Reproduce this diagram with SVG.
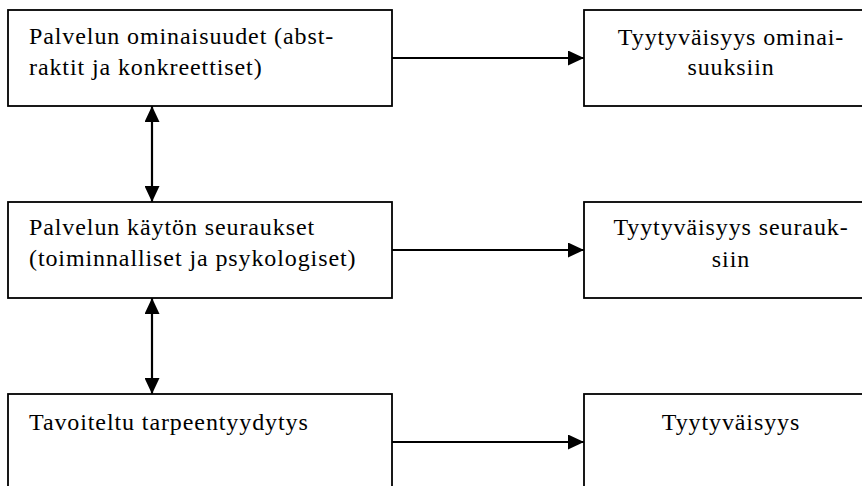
<svg xmlns="http://www.w3.org/2000/svg" width="862" height="486" viewBox="0 0 862 486">
  <style>
    .box { fill: #ffffff; stroke: #000000; stroke-width: 1.8; }
    .lbl { font-family: "Liberation Serif", "Times New Roman", serif; font-size: 24px; letter-spacing: 0.9px; fill: #000000; }
    .mid { text-anchor: middle; }
    .link { stroke: #000000; stroke-width: 2.2; fill: none; }
  </style>
  <defs>
    <marker id="head" viewBox="0 0 16 15" refX="16" refY="7.5" markerWidth="16" markerHeight="15" markerUnits="userSpaceOnUse" orient="auto-start-reverse">
      <path d="M0,0 L16,7.5 L0,15 Z" fill="#000000"/>
    </marker>
  </defs>
  <rect width="862" height="486" fill="#ffffff"/>

  <g id="connectors">
    <line class="link" x1="392" y1="58" x2="584" y2="58" marker-end="url(#head)"/>
    <line class="link" x1="392" y1="250" x2="584" y2="250" marker-end="url(#head)"/>
    <line class="link" x1="392" y1="442" x2="584" y2="442" marker-end="url(#head)"/>
    <line class="link" x1="152" y1="106" x2="152" y2="202" marker-start="url(#head)" marker-end="url(#head)"/>
    <line class="link" x1="152" y1="298" x2="152" y2="394" marker-start="url(#head)" marker-end="url(#head)"/>
  </g>

  <g id="ominaisuudet">
    <rect class="box" x="8" y="10" width="384" height="96"/>
    <text class="lbl" x="29" y="44">Palvelun ominaisuudet (abst-</text>
    <text class="lbl" x="29" y="75">raktit ja konkreettiset)</text>
  </g>
  <g id="seuraukset">
    <rect class="box" x="8" y="202" width="384" height="96"/>
    <text class="lbl" x="29" y="235">Palvelun käytön seuraukset</text>
    <text class="lbl" x="29" y="266">(toiminnalliset ja psykologiset)</text>
  </g>
  <g id="tarpeentyydytys">
    <rect class="box" x="8" y="394" width="384" height="110"/>
    <text class="lbl" x="29" y="430">Tavoiteltu tarpeentyydytys</text>
  </g>

  <g id="tyytyvaisyys-ominaisuuksiin">
    <rect class="box" x="584" y="10" width="290" height="96"/>
    <text class="lbl mid" x="731" y="45">Tyytyväisyys ominai-</text>
    <text class="lbl mid" x="731" y="75">suuksiin</text>
  </g>
  <g id="tyytyvaisyys-seurauksiin">
    <rect class="box" x="584" y="202" width="290" height="96"/>
    <text class="lbl mid" x="731" y="235">Tyytyväisyys seurauk-</text>
    <text class="lbl mid" x="731" y="267">siin</text>
  </g>
  <g id="tyytyvaisyys">
    <rect class="box" x="584" y="394" width="290" height="110"/>
    <text class="lbl mid" x="731" y="430">Tyytyväisyys</text>
  </g>
</svg>
